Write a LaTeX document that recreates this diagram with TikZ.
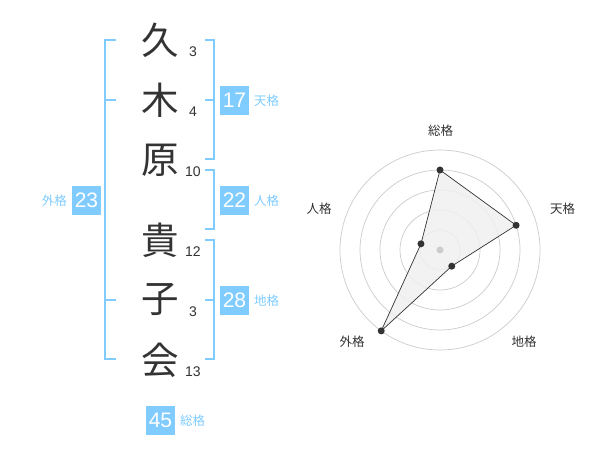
\documentclass[tikz,border=0pt]{standalone}
\usepackage{fontspec}
\usetikzlibrary{calc}
\setmainfont{Noto Sans CJK JP}
\newfontfamily\numfont{Liberation Sans}
\definecolor{kblue}{RGB}{128,204,255}
\definecolor{kdark}{RGB}{51,51,51}
\definecolor{kgrid}{RGB}{204,204,204}
\definecolor{kfill}{RGB}{240,240,240}
\tikzset{
  kanji/.style={font=\fontsize{37.5}{37.5}\selectfont, text=kdark, inner sep=0pt},
  stroke/.style={font=\numfont\fontsize{14}{14}\selectfont, text=kdark, inner sep=0pt},
  brk/.style={draw=kblue, line width=1.8pt},
  numbox/.style={fill=kblue, text=white, minimum width=29pt, minimum height=29pt, inner sep=0pt, font=\numfont\fontsize{21}{21}\selectfont},
  kaku/.style={text=kblue, font=\fontsize{12.5}{12.5}\selectfont, inner sep=0pt},
  rlabel/.style={text=kdark, font=\fontsize{12.5}{12.5}\selectfont, inner sep=0pt},
  grid/.style={draw=kgrid, line width=0.7pt},
  dot/.style={circle, fill=kdark, inner sep=0pt, minimum size=7pt},
}
\begin{document}
\begin{tikzpicture}[x=1pt,y=-1pt]
\useasboundingbox[fill=white] (0,0) rectangle (600,470);
% kanji
\node[kanji] (k1) at (160,40) {久};
\node[kanji] (k2) at (160,100) {木};
\node[kanji] (k3) at (160,160) {原};
\node[kanji] (k4) at (160,240) {貴};
\node[kanji] (k5) at (160,300) {子};
\node[kanji] (k6) at (160,360) {会};
% stroke counts
\node[stroke] (s1) at (193,52) {3};
\node[stroke] (s2) at (193,112) {4};
\node[stroke] (s3) at (193,172) {10};
\node[stroke] (s4) at (193,252) {12};
\node[stroke] (s5) at (193,312) {3};
\node[stroke] (s6) at (193,372) {13};
% left bracket (gaikaku)
\draw[brk] (116,40) -- (105,40) -- (105,359) -- (116,359);
\draw[brk] (105,100) -- (116,100);
\draw[brk] (105,300) -- (116,300);
% right brackets
\draw[brk] (205,40) -- (214,40) -- (214,159) -- (205,159);
\draw[brk] (205,100) -- (214,100);
\draw[brk] (205,170) -- (214,170) -- (214,229) -- (205,229);
\draw[brk] (205,240) -- (214,240) -- (214,359) -- (205,359);
\draw[brk] (205,300) -- (214,300);
% boxes
\node[numbox] (b17) at (234.5,100.5) {17};
\node[kaku,anchor=west] (t17) at (254,101) {天格};
\node[numbox] (b22) at (234.5,200.5) {22};
\node[kaku,anchor=west] (t22) at (254,201) {人格};
\node[numbox] (b28) at (234.5,300.5) {28};
\node[kaku,anchor=west] (t28) at (254,301) {地格};
\node[numbox] (b23) at (86.5,200.5) {23};
\node[kaku,anchor=east] (t23) at (67,201) {外格};
\node[numbox] (b45) at (160.5,420) {45};
\node[kaku,anchor=west] (t45) at (180,420.5) {総格};
% radar chart
\coordinate (c) at (440,250);
\foreach \r in {20,40,60,80,100} \draw[grid] (c) circle[radius=\r];
\coordinate (p1) at ($(c)+(0,-80)$);
\coordinate (p2) at ($(c)+({80*cos(18)},{-80*sin(18)})$);
\coordinate (p3) at ($(c)+({20*cos(54)},{20*sin(54)})$);
\coordinate (p4) at ($(c)+({-100*cos(54)},{100*sin(54)})$);
\coordinate (p5) at ($(c)+({-20*cos(18)},{-20*sin(18)})$);
\fill[kfill, opacity=0.85] (p1) -- (p2) -- (p3) -- (p4) -- (p5) -- cycle;
\draw[kdark, line width=0.7pt] (p1) -- (p2) -- (p3) -- (p4) -- (p5) -- cycle;
\fill[kgrid] (c) circle[radius=3.5];
\foreach \p in {p1,p2,p3,p4,p5} \node[dot] at (\p) {};
\node[rlabel] (r1) at (440.5,130.5) {総格};
\node[rlabel] (r2) at (562.5,208.5) {天格};
\node[rlabel] (r3) at (524,342) {地格};
\node[rlabel] (r4) at (352,342) {外格};
\node[rlabel] (r5) at (319,209) {人格};
\end{tikzpicture}
\end{document}
